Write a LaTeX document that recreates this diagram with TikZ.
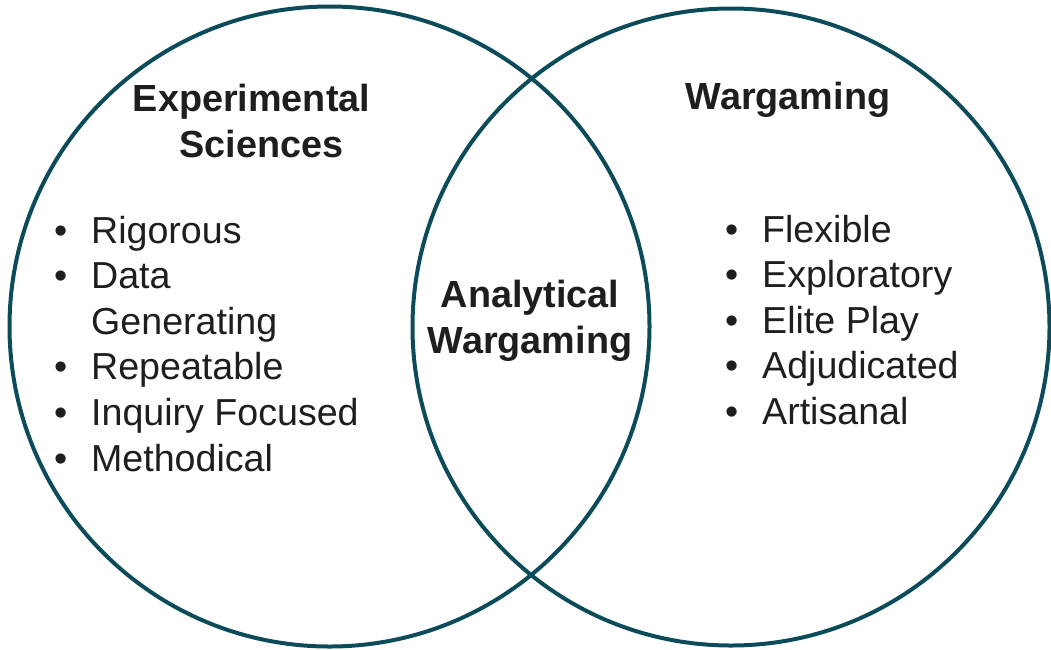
\documentclass[tikz,border=0pt]{standalone}
\usepackage{fontspec}
\setmainfont{Liberation Sans}
\definecolor{ring}{RGB}{12,76,90}
\definecolor{ink}{RGB}{30,30,30}
\tikzset{
  ringline/.style={draw=ring, line width=4pt},
  title/.style={font=\fontsize{37.8}{46}\selectfont\bfseries, text=ink, inner sep=0pt, anchor=base},
  listbox/.style={font=\fontsize{37.6}{45.6}\selectfont, text=ink, inner sep=0pt, anchor=base west, align=left}
}
\newcommand{\bul}{\makebox[37pt][l]{•}}
\begin{document}
\begin{tikzpicture}[x=1pt,y=1pt]
\useasboundingbox (0,0) rectangle (1051,-649);
\node[ringline, circle, minimum size=640pt, inner sep=0pt] (left) at (329.5,-326.5) {};
\node[ringline, circle, minimum size=637pt, inner sep=0pt] (right) at (731,-327) {};
\node[title] (t1a) at (251.5,-111) {Experimental};
\node[title] (t1b) at (261.5,-157.5) {Sciences};
\node[title] (t2) at (788,-109.5) {Wargaming};
\node[title] (t3a) at (530,-307) {Analytical};
\node[title] (t3b) at (530,-353) {Wargaming};
\node[listbox] (l1) at (54,-243) {\begin{tabular}[t]{@{}l@{}}
\bul Rigorous\\
\bul Data\\
\makebox[37pt]{}Generating\\
\bul Repeatable\\
\bul Inquiry Focused\\
\bul Methodical
\end{tabular}};
\node[listbox] (l2) at (725,-242) {\begin{tabular}[t]{@{}l@{}}
\bul Flexible\\
\bul Exploratory\\
\bul Elite Play\\
\bul Adjudicated\\
\bul Artisanal
\end{tabular}};
\end{tikzpicture}
\end{document}
